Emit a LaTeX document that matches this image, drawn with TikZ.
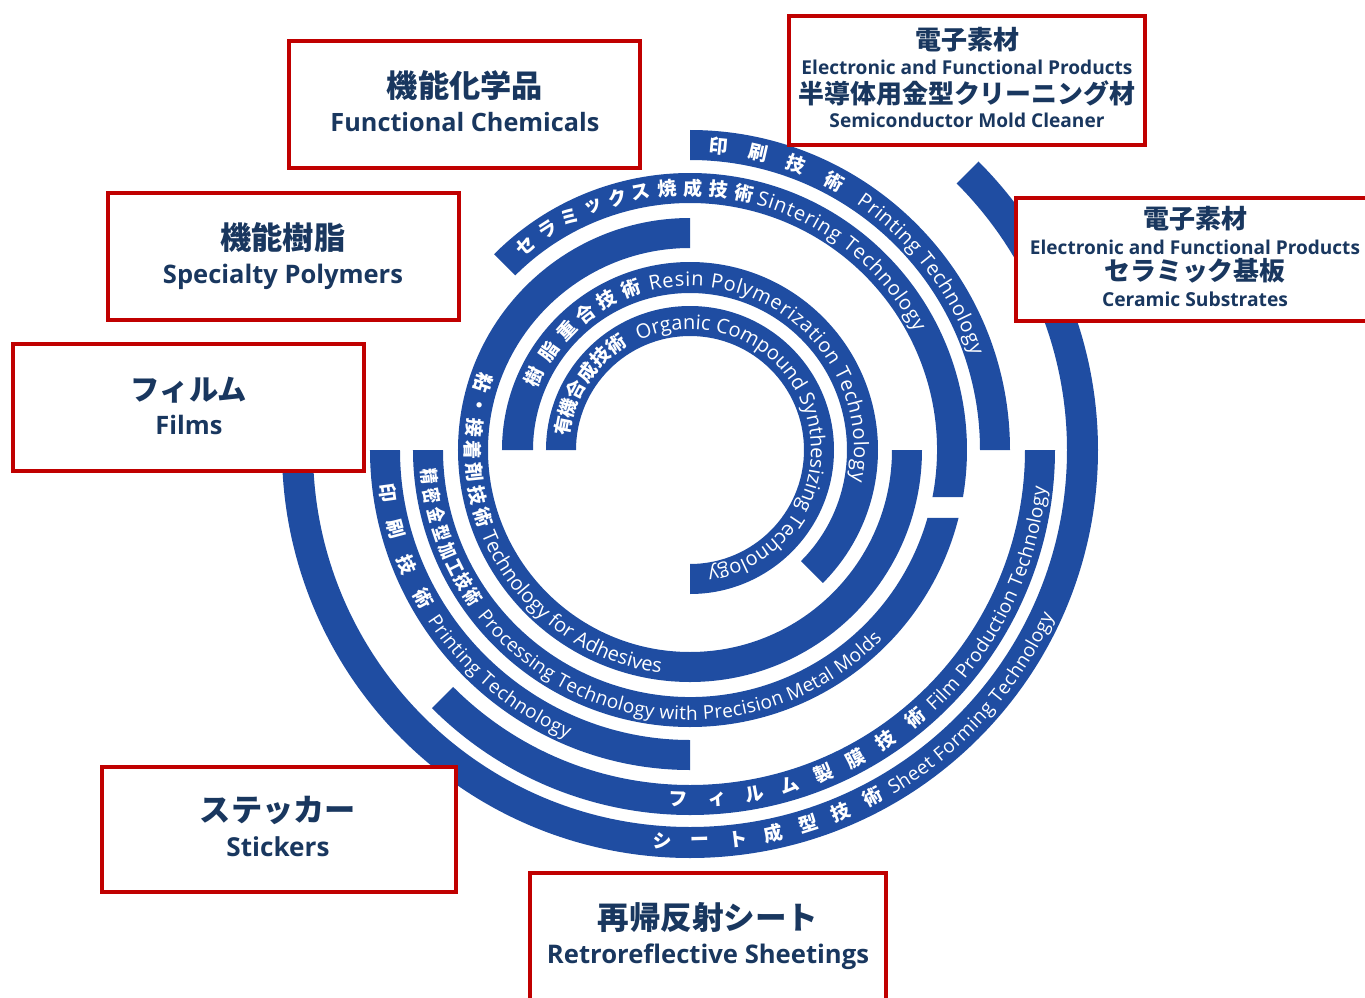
\documentclass[tikz,border=0pt]{standalone}
\usepackage{fontspec}
\usetikzlibrary{decorations.text}
\newfontfamily\jpf{Noto Sans CJK JP}
\newfontfamily\enf{Open Sans}
\definecolor{ringblue}{RGB}{31,77,162}
\definecolor{boxred}{RGB}{192,0,0}
\definecolor{navy}{RGB}{25,55,95}
\newcounter{jn}
% annular sector: rin rout a1 a2
\newcommand{\annulus}[4]{\fill[ringblue] (#3:#2) arc[start angle=#3,end angle=#4,radius=#2] -- (#4:#1) arc[start angle=#4,end angle=#3,radius=#1] -- cycle;}
% annular sector with different end angles for outer/inner: rin rout a1 a2out a2in
\newcommand{\annulusx}[5]{\fill[ringblue] (#3:#2) arc[start angle=#3,end angle=#4,radius=#2] -- (#5:#1) arc[start angle=#5,end angle=#3,radius=#1] -- cycle;}
% radius, start, end, font size, text
\newcommand{\arctext}[5]{\path[decorate,decoration={text along path,text align=fit to path,text color=white,text={|\enf\fontsize{#4}{11}\selectfont|#5}}] (#2:#1) arc[start angle=#2,end angle=#3,radius=#1];}
\newcommand{\jcw}[3]{\stepcounter{jn}\node[ringjp,rotate=#2-90] (jc\thejn) at (#2:#1) {#3};}
\newcommand{\jcc}[3]{\stepcounter{jn}\node[ringjp,rotate=#2+90] (jc\thejn) at (#2:#1) {#3};}
\newcommand{\jcn}[3]{\stepcounter{jn}\node[ringjp,rotate=#2+90] (jc\thejn) at (#2:#1) {\scalebox{0.82}[1]{#3}};}
\tikzset{
  ringjp/.style={font=\jpf\bfseries\fontsize{9.5}{9.5}\selectfont,text=white,inner sep=0pt},
  redbox/.style={draw=boxred,line width=2pt,fill=white,inner sep=0pt},
  jphead/.style={font=\jpf\bfseries,text=navy,inner sep=0pt},
  enlab/.style={font=\enf\bfseries,text=navy,inner sep=0pt,anchor=base},
}
\begin{document}
\begin{tikzpicture}[x=0.5pt,y=0.5pt]
\useasboundingbox (-690,-547) rectangle (675,450);
% ---- rings ----
\annulus{114}{144}{180}{-90}
\annulus{157}{188}{180}{-45}
\annulus{202}{232}{90}{360}
\annulusx{247}{277}{135}{-9.77}{-10.97}
\annulusx{247}{277}{180}{345.79}{344.02}
\annulus{290}{320}{90}{0}
\annulus{290}{320}{180}{270}
\annulus{335}{365}{0}{-135}
\annulus{377}{408}{45}{-180}
% ---- ring texts: clockwise (top) ----
\foreach \a/\c in {84.7/印,77/刷,69.6/技,61.7/術} {\jcw{305}{\a}{\c}}
\arctext{297}{56}{18.5}{10}{Printing Technology}
\foreach \a/\c in {128.8/セ,122.8/ラ,117.3/ミ,111.6/ッ,106/ク,100.8/ス,95/焼,89.3/成,83.8/技,78.1/術} {\jcw{262}{\a}{\c}}
\arctext{254}{75}{27.5}{10}{Sintering Technology}
\foreach \a/\c in {155/樹,145/脂,136/重,127.5/合,119/技,110/術} {\jcw{172}{\a}{\c}}
\arctext{164}{104}{-11}{10}{Resin Polymerization Technology}
\foreach \a/\c in {169/有,161/機,152/合,143/成,134/技,125/術} {\jcw{129}{\a}{\c}}
\arctext{121}{115}{-81}{10}{Organic Compound Synthesizing Technology}
% ---- ring texts: counter-clockwise (bottom) ----
\foreach \a/\c in {162/粘,168/・,174/接,180/着,186/剤,192/技,198/術} {\jcc{217}{\a}{\c}}
\arctext{225}{202}{262}{10}{Technology for Adhesives}
\foreach \a/\c in {185.8/精,190/密,194.4/金,198.6/型,202.7/加,206.5/工,210.2/技,214/術} {\jcn{262}{\a}{\c}}
\arctext{270}{218}{315.5}{9.5}{Processing Technology with Precision Metal Molds}
\foreach \a/\c in {188/印,195/刷,202/技,209/術} {\jcc{305}{\a}{\c}}
\arctext{313}{213}{247}{9.5}{Printing Technology}
\foreach \a/\c in {268/フ,274.5/ィ,280.7/ル,286.6/ム,292.4/製,298.3/膜,304/技,310/術} {\jcc{350}{\a}{\c}}
\arctext{358}{313}{354}{9.5}{Film Production Technology}
\foreach \a/\c in {266/シ,271.5/ー,277/ト,282.3/成,287.6/型,292.6/技,297.7/術} {\jcc{392}{\a}{\c}}
\arctext{400}{300.5}{335.5}{9.5}{Sheet Forming Technology}
% ---- boxes ----
\node[redbox,minimum width=175.5pt,minimum height=63.5pt] (b1) at (-225.5,345.5) {};
\node[jphead] (b1j) at (-225,364) {\resizebox{78pt}{!}{機能化学品}};
\node[enlab] (b1e) at (-225,319) {\resizebox{134.5pt}{!}{Functional Chemicals}};
\node[redbox,minimum width=175.5pt,minimum height=63.5pt] (b2) at (-406.5,193.5) {};
\node[jphead] (b2j) at (-407,212) {\resizebox{62.5pt}{!}{機能樹脂}};
\node[enlab] (b2e) at (-407,167) {\resizebox{120pt}{!}{Specialty Polymers}};
\node[redbox,minimum width=175.5pt,minimum height=63.5pt] (b3) at (-501.5,42.5) {};
\node[jphead] (b3j) at (-501,60) {\resizebox{58pt}{!}{フィルム}};
\node[enlab] (b3e) at (-501,16) {\resizebox{33.5pt}{!}{Films}};
\node[redbox,minimum width=177pt,minimum height=62.5pt] (b4) at (-411,-379.5) {};
\node[jphead] (b4j) at (-412,-360) {\resizebox{78pt}{!}{ステッカー}};
\node[enlab] (b4e) at (-412,-406) {\resizebox{51.5pt}{!}{Stickers}};
\node[redbox,minimum width=178pt,minimum height=68.5pt] (b5) at (18,-491.5) {};
\node[jphead] (b5j) at (18,-468) {\resizebox{110.5pt}{!}{再帰反射シート}};
\node[enlab] (b5e) at (18,-513) {\resizebox{161pt}{!}{Retroreflective Sheetings}};
\node[redbox,minimum width=178pt,minimum height=64.5pt] (b6) at (277,369.5) {};
\node[jphead] (b6j) at (277,410) {\resizebox{52pt}{!}{電子素材}};
\node[enlab] (b6e) at (277,375) {\resizebox{165.5pt}{!}{Electronic and Functional Products}};
\node[jphead] (b6k) at (277,357) {\resizebox{168.5pt}{!}{半導体用金型クリーニング材}};
\node[enlab] (b6f) at (277,322) {\resizebox{137.5pt}{!}{Semiconductor Mold Cleaner}};
\node[redbox,minimum width=182pt,minimum height=61.5pt] (b7) at (508,190.5) {};
\node[jphead] (b7j) at (505,231) {\resizebox{52pt}{!}{電子素材}};
\node[enlab] (b7e) at (505,196) {\resizebox{165pt}{!}{Electronic and Functional Products}};
\node[jphead] (b7k) at (505,179) {\resizebox{90.5pt}{!}{セラミック基板}};
\node[enlab] (b7f) at (505,144) {\resizebox{93pt}{!}{Ceramic Substrates}};
\end{tikzpicture}
\end{document}
